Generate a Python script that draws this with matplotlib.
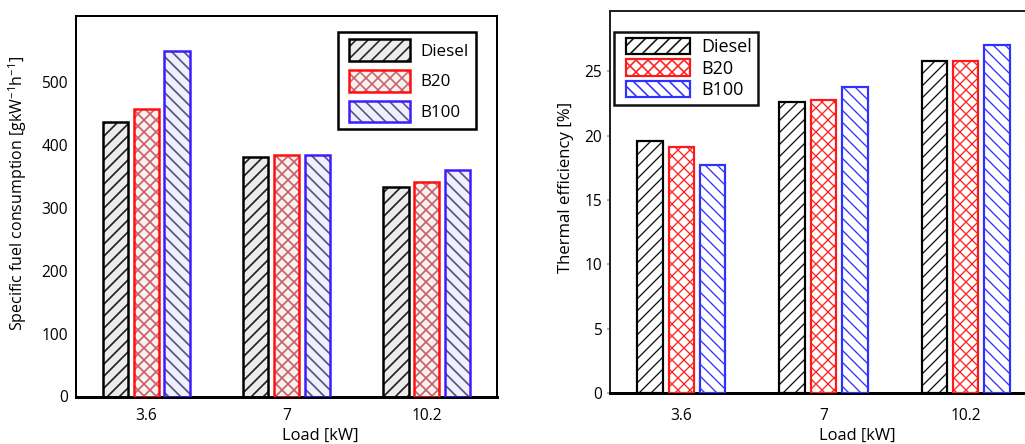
import matplotlib
matplotlib.use("Agg")
import matplotlib.pyplot as plt
from matplotlib.legend_handler import HandlerTuple
import numpy as np

# ---------------- data ----------------
loads = ["3.6", "7", "10.2"]
fuels = ["Diesel", "B20", "B100"]
sfc_diesel = [435, 380, 332]
sfc_b20 = [457, 384, 340]
sfc_b100 = [548, 384, 360]
te_diesel = [19.6, 22.6, 25.8]
te_b20 = [19.1, 22.8, 25.8]
te_b100 = [17.7, 23.8, 27.0]
sfc_ticks = [0, 100, 200, 300, 400, 500]
te_ticks = [0, 5, 10, 15, 20, 25]

plt.rcParams['font.family'] = ['Open Sans', 'DejaVu Sans']
plt.rcParams['mathtext.fontset'] = 'custom'
plt.rcParams['mathtext.rm'] = 'Open Sans'
plt.rcParams['mathtext.it'] = 'Open Sans'
plt.rcParams['hatch.linewidth'] = 1.6

DPI = 72
fig = plt.figure(figsize=(1025 / DPI, 444 / DPI), dpi=DPI)

x = np.arange(len(loads))
offsets = [-0.22, 0.0, 0.22]
width = 0.18


def draw(ax, series, fills, hatchcols, edgecols, hatches, lw, hlw):
    handles = []
    for vals, off, fc, hc, ec, h in zip(series, offsets, fills, hatchcols, edgecols, hatches):
        b1 = ax.bar(x + off, vals, width, color=fc, edgecolor=hc, hatch=h, linewidth=0, zorder=2)
        for p in b1.patches:
            if hasattr(p, "set_hatch_linewidth"):
                p.set_hatch_linewidth(hlw)
        b2 = ax.bar(x + off, vals, width, fill=False, edgecolor=ec, linewidth=lw, zorder=3)
        handles.append((b1.patches[0], b2.patches[0]))
    return handles


# ---------------- left chart ----------------
ax1 = fig.add_axes([76 / 1025, (444 - 396.5) / 444, 421 / 1025, 380.5 / 444])
h1 = draw(ax1, [sfc_diesel, sfc_b20, sfc_b100],
          ['#ececec', '#f8f1ec', '#efefff'],
          ['#222222', '#c86070', '#555577'],
          ['#000000', '#ff1010', '#3d1cff'],
          ['//', 'xx', '\\\\'], 2.5, 1.7)
ax1.set_xlim(-0.5, 2.5)
ax1.set_ylim(0, 604)
ax1.set_yticks(sfc_ticks)
ax1.set_xticks(x)
ax1.set_xticklabels(loads)
ax1.tick_params(axis='both', length=0, labelsize=15.5)
ax1.tick_params(axis='y', pad=8)
ax1.tick_params(axis='x', pad=11)
for s in ['left', 'top', 'right']:
    ax1.spines[s].set_linewidth(2)
ax1.spines['bottom'].set_linewidth(3)
ax1.set_ylabel(r"Specific fuel consumption [gkW$^{-1}$h$^{-1}$]", fontsize=16)
ax1.yaxis.set_label_coords(-0.112, 0.534)
ax1.set_xlabel("Load [kW]", fontsize=16.5)
ax1.xaxis.set_label_coords(0.58, -0.082)
leg1 = ax1.legend(h1, fuels, loc='upper left', bbox_to_anchor=(0.6216, 0.957),
                  borderaxespad=0, fontsize=17, handlelength=3.85, handleheight=1.6,
                  labelspacing=0.52, handletextpad=0.63, borderpad=0.4,
                  fancybox=False, framealpha=1,
                  handler_map={tuple: HandlerTuple(ndivide=1, xpad=0.27)})
leg1.get_frame().set_edgecolor('black')
leg1.get_frame().set_linewidth(2.5)

# ---------------- right chart ----------------
ax2 = fig.add_axes([610.3 / 1025, (444 - 393.3) / 444, 426.4 / 1025, 382.6 / 444])
h2 = draw(ax2, [te_diesel, te_b20, te_b100],
          ['white', 'white', 'white'],
          ['#111111', '#ff2020', '#3030ff'],
          ['#000000', '#ff1a1a', '#3030ff'],
          ['//', 'xx', '\\\\'], 2.2, 1.3)
ax2.set_xlim(-0.5, 2.5)
ax2.set_ylim(0, 29.7)
ax2.set_yticks(te_ticks)
ax2.set_xticks(x)
ax2.set_xticklabels(loads)
ax2.tick_params(axis='x', length=0, labelsize=15.5, pad=15)
ax2.tick_params(axis='y', length=3, width=1.5, color='#6fa8dc', direction='out',
                labelsize=15.5, pad=5)
for s in ['left', 'top', 'right']:
    ax2.spines[s].set_linewidth(2)
    ax2.spines[s].set_color('#222222')
ax2.spines['bottom'].set_linewidth(3)
ax2.set_ylabel("Thermal efficiency [%]", fontsize=16.7)
ax2.yaxis.set_label_coords(-0.086, 0.539)
ax2.set_xlabel("Load [kW]", fontsize=16.5)
ax2.xaxis.set_label_coords(0.579, -0.091)
leg2 = ax2.legend(h2, fuels, loc='upper left', bbox_to_anchor=(0.0094, 0.945),
                  borderaxespad=0, fontsize=18, handlelength=3.9, handleheight=1.05,
                  labelspacing=0.17, handletextpad=0.63, borderpad=0.32,
                  fancybox=False, framealpha=1,
                  handler_map={tuple: HandlerTuple(ndivide=1, xpad=0.35)})
leg2.get_frame().set_edgecolor('#111111')
leg2.get_frame().set_linewidth(2.5)

fig.savefig("out.png", dpi=DPI)
